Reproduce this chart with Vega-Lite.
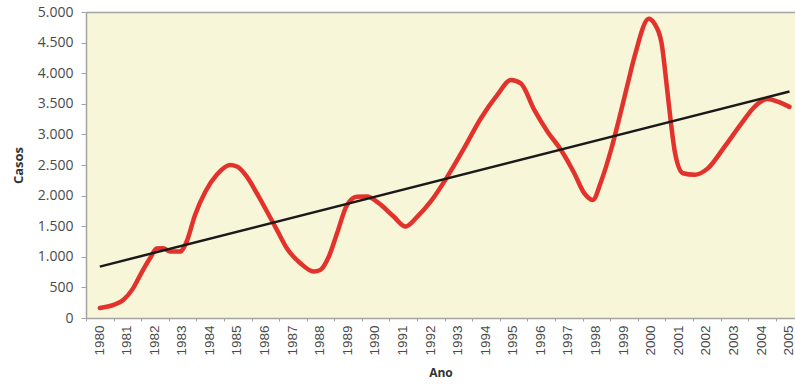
{
  "$schema": "https://vega.github.io/schema/vega-lite/v6.json",
  "width": 709,
  "height": 306,
  "autosize": "none",
  "padding": {"left": 86, "top": 12, "right": 0, "bottom": 66},
  "background": "white",
  "config": {
    "view": {"fill": "#f8f6d9", "stroke": null},
    "font": "Liberation Sans",
    "axis": {
      "grid": false,
      "domainColor": "#a3a3a3",
      "domainWidth": 1.5,
      "tickColor": "#a3a3a3",
      "labelColor": "#4a4a4a",
      "titleColor": "#333333"
    }
  },
  "datasets": {
    "casos": [
      {"ano": 1980.0, "casos": 165},
      {"ano": 1980.5, "casos": 215},
      {"ano": 1980.85, "casos": 295},
      {"ano": 1981.2, "casos": 480},
      {"ano": 1981.5, "casos": 730},
      {"ano": 1981.82, "casos": 975},
      {"ano": 1982.06, "casos": 1135},
      {"ano": 1982.3, "casos": 1140},
      {"ano": 1982.55, "casos": 1085},
      {"ano": 1982.9, "casos": 1085},
      {"ano": 1983.15, "casos": 1250},
      {"ano": 1983.45, "casos": 1680},
      {"ano": 1983.82, "casos": 2060},
      {"ano": 1984.24, "casos": 2340},
      {"ano": 1984.72, "casos": 2500},
      {"ano": 1984.97, "casos": 2475},
      {"ano": 1985.33, "casos": 2310},
      {"ano": 1985.69, "casos": 2040},
      {"ano": 1986.06, "casos": 1740},
      {"ano": 1986.42, "casos": 1440},
      {"ano": 1986.78, "casos": 1140},
      {"ano": 1987.27, "casos": 895},
      {"ano": 1987.75, "casos": 760},
      {"ano": 1987.99, "casos": 785},
      {"ano": 1988.3, "casos": 1000},
      {"ano": 1988.6, "casos": 1385},
      {"ano": 1988.96, "casos": 1845},
      {"ano": 1989.32, "casos": 1980},
      {"ano": 1989.69, "casos": 1985},
      {"ano": 1990.1, "casos": 1880},
      {"ano": 1990.66, "casos": 1655},
      {"ano": 1991.08, "casos": 1495},
      {"ano": 1991.51, "casos": 1655},
      {"ano": 1991.99, "casos": 1900},
      {"ano": 1992.6, "casos": 2310},
      {"ano": 1993.2, "casos": 2770},
      {"ano": 1993.81, "casos": 3260},
      {"ano": 1994.41, "casos": 3645},
      {"ano": 1994.9, "casos": 3890},
      {"ano": 1995.26, "casos": 3835},
      {"ano": 1995.75, "casos": 3400},
      {"ano": 1996.23, "casos": 3045},
      {"ano": 1996.72, "casos": 2745},
      {"ano": 1997.2, "casos": 2365},
      {"ano": 1997.56, "casos": 2040},
      {"ano": 1997.87, "casos": 1930},
      {"ano": 1998.17, "casos": 2230},
      {"ano": 1998.53, "casos": 2745},
      {"ano": 1998.85, "casos": 3300},
      {"ano": 1999.14, "casos": 3835},
      {"ano": 1999.4, "casos": 4300},
      {"ano": 1999.9, "casos": 4890},
      {"ano": 2000.1, "casos": 4815},
      {"ano": 2000.36, "casos": 4500},
      {"ano": 2000.55, "casos": 3800},
      {"ano": 2000.7, "casos": 3200},
      {"ano": 2000.85, "casos": 2700},
      {"ano": 2001.14, "casos": 2365},
      {"ano": 2001.56, "casos": 2340},
      {"ano": 2002.04, "casos": 2445},
      {"ano": 2002.65, "casos": 2800},
      {"ano": 2003.26, "casos": 3180},
      {"ano": 2003.74, "casos": 3455},
      {"ano": 2004.2, "casos": 3580},
      {"ano": 2004.71, "casos": 3510},
      {"ano": 2005.0, "casos": 3450}
    ],
    "tendencia": [
      {"ano": 1980, "casos": 840},
      {"ano": 2005, "casos": 3700}
    ]
  },
  "layer": [
    {
      "data": {"name": "casos"},
      "mark": {"type": "line", "color": "#e2322b", "strokeWidth": 4.5, "interpolate": "monotone", "strokeCap": "round", "strokeJoin": "round"},
      "encoding": {
        "x": {
          "field": "ano", "type": "quantitative",
          "scale": {"domain": [1979.5, 2005.2], "nice": false, "zero": false},
          "axis": {"orient": "top", "labels": false, "ticks": false, "domain": true, "title": null}
        },
        "y": {
          "field": "casos", "type": "quantitative",
          "scale": {"domain": [0, 5000], "nice": false},
          "axis": {
            "orient": "left",
            "values": [0, 500, 1000, 1500, 2000, 2500, 3000, 3500, 4000, 4500, 5000],
            "labelExpr": "replace(format(datum.value, ','), ',', '.')",
            "labelFont": "Open Sans",
            "labelFontSize": 14,
            "labelPadding": 8,
            "tickSize": 5,
            "title": "Casos",
            "titleFont": "Open Sans",
            "titleFontSize": 13,
            "titleFontWeight": "bold",
            "titlePadding": 12
          }
        }
      }
    },
    {
      "data": {"name": "tendencia"},
      "mark": {"type": "line", "color": "#1a1a1a", "strokeWidth": 2.5},
      "encoding": {
        "x": {
          "field": "ano", "type": "quantitative",
          "scale": {"domain": [1979.5, 2005.2], "nice": false, "zero": false},
          "axis": {
            "orient": "bottom",
            "values": [1979.5, 1980.5, 1981.5, 1982.5, 1983.5, 1984.5, 1985.5, 1986.5, 1987.5, 1988.5, 1989.5, 1990.5, 1991.5, 1992.5, 1993.5, 1994.5, 1995.5, 1996.5, 1997.5, 1998.5, 1999.5, 2000.5, 2001.5, 2002.5, 2003.5, 2004.5],
            "labelExpr": "format(datum.value + 0.5, 'd')",
            "labelOffset": 13,
            "labelAngle": -90,
            "labelFontSize": 13.5,
            "labelPadding": 4,
            "labelBound": false,
            "labelOverlap": false,
            "labelFlush": false,
            "tickSize": 3,
            "title": "Ano",
            "titleFont": "Open Sans",
            "titleFontSize": 12,
            "titleFontWeight": "bold",
            "titlePadding": 12
          }
        },
        "y": {
          "field": "casos", "type": "quantitative",
          "scale": {"domain": [0, 5000], "nice": false},
          "axis": null
        }
      }
    }
  ],
  "resolve": {"axis": {"x": "independent", "y": "independent"}}
}
